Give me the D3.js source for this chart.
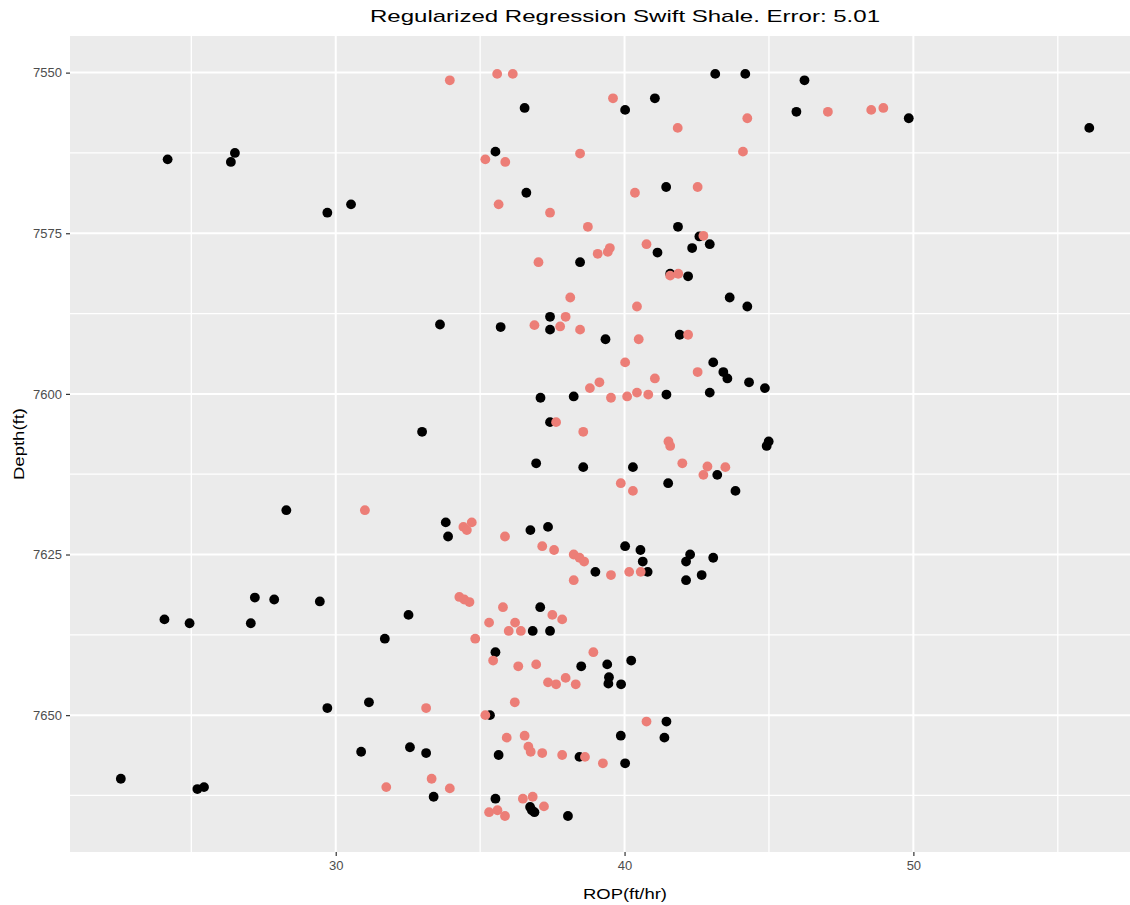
<!DOCTYPE html>
<html>
<head>
<meta charset="utf-8">
<script src="https://cdn.jsdelivr.net/npm/d3@7"></script>
<style>
  html, body { margin: 0; padding: 0; background: #ffffff; }
  svg { display: block; }
  text { font-family: "Liberation Sans", Arial, sans-serif; }
</style>
</head>
<body>
<svg id="chart" width="1130" height="905"></svg>
<script>
// ---- data ----
const titleText = "Regularized Regression Swift Shale. Error: 5.01";
const xLabel = "ROP(ft/hr)";
const yLabel = "Depth(ft)";
const xTicks = [30, 40, 50];
const xMinor = [25, 35, 45, 55];
const yTicks = [7550, 7575, 7600, 7625, 7650];
const yMinor = [7562.5, 7587.5, 7612.5, 7637.5, 7662.5];

// actual (black) points
const actualROP = [
  24.18, 26.51, 26.37, 29.71, 30.53, 43.14, 44.18, 41.05, 36.54, 40.02,
  35.53, 36.60, 41.44, 41.85, 42.59, 42.95, 42.34, 41.14, 38.46, 41.58,
  42.20, 43.64, 44.25, 46.23, 45.95, 49.84, 56.09, 32.99, 28.29, 33.61,
  35.71, 37.42, 37.42, 39.34, 41.91, 43.07, 43.42, 43.56, 44.31, 44.86,
  41.45, 42.95, 37.09, 38.24, 37.42, 44.99, 44.92, 36.94, 38.57, 40.29,
  43.21, 41.51, 43.84, 33.81, 33.89, 36.74, 37.35, 40.02, 40.55, 40.63,
  42.27, 42.13, 43.07, 38.99, 40.80, 42.67, 42.13, 37.08, 36.82, 37.42,
  35.53, 38.50, 39.40, 40.23, 39.46, 39.44, 39.88, 35.34, 41.45, 41.38,
  39.87, 38.44, 40.02, 35.64, 33.13, 33.39, 35.53, 36.73, 36.88, 36.79,
  38.04, 24.07, 24.94, 27.20, 27.87, 27.06, 29.45, 32.52, 31.70, 29.71,
  31.15, 30.88, 32.57, 22.56, 25.21, 25.44
];
const actualDepth = [
  7563.5, 7562.5, 7563.9, 7571.8, 7570.5, 7550.2, 7550.2, 7554.0, 7555.5, 7555.8,
  7562.3, 7568.7, 7567.8, 7574.0, 7575.5, 7576.7, 7577.3, 7578.0, 7579.5, 7581.3,
  7581.7, 7585.0, 7586.4, 7551.2, 7556.1, 7557.1, 7558.6, 7605.9, 7618.1, 7589.2,
  7589.6, 7588.0, 7590.0, 7591.5, 7590.8, 7595.1, 7596.6, 7597.6, 7598.2, 7599.1,
  7600.1, 7599.8, 7600.6, 7600.4, 7604.4, 7607.4, 7608.1, 7610.8, 7611.4, 7611.4,
  7612.6, 7613.9, 7615.1, 7620.0, 7622.2, 7621.2, 7620.7, 7623.7, 7624.3, 7626.1,
  7625.0, 7626.1, 7625.5, 7627.7, 7627.7, 7628.2, 7629.0, 7633.2, 7636.9, 7636.9,
  7640.2, 7642.4, 7642.1, 7641.5, 7644.1, 7645.1, 7645.2, 7650.0, 7651.0, 7653.5,
  7653.2, 7656.5, 7657.5, 7656.2, 7655.9, 7662.7, 7663.0, 7664.3, 7665.1, 7664.8,
  7665.7, 7635.1, 7635.7, 7631.7, 7632.0, 7635.7, 7632.3, 7634.4, 7638.1, 7648.9,
  7648.0, 7655.7, 7655.0, 7659.9, 7661.5, 7661.2
];

// predicted (salmon) points
const predROP = [
  33.95, 35.59, 36.13, 39.60, 44.25, 41.84, 44.10, 38.46, 35.18, 35.87,
  40.36, 42.53, 35.64, 37.42, 38.73, 42.73, 40.76, 39.07, 39.42, 39.49,
  37.02, 41.58, 41.86, 38.12, 40.43, 47.04, 48.54, 48.96, 31.01, 37.96,
  36.88, 37.77, 38.46, 40.49, 42.20, 40.02, 42.53, 41.05, 39.13, 38.80,
  39.53, 40.09, 40.43, 40.82, 37.63, 38.57, 41.52, 41.58, 42.00, 42.87,
  43.49, 42.73, 39.87, 40.29, 34.42, 34.54, 34.71, 35.86, 37.15, 37.56,
  38.24, 38.44, 38.60, 39.53, 40.16, 40.56, 38.24, 34.28, 34.45, 34.63,
  35.79, 37.50, 37.84, 35.31, 36.21, 35.99, 36.41, 34.83, 35.45, 38.92,
  36.32, 36.94, 37.35, 37.63, 37.96, 38.31, 36.20, 33.13, 35.18, 40.76,
  35.92, 36.54, 36.67, 36.75, 37.15, 37.84, 38.63, 39.25, 33.32, 33.95,
  36.48, 36.82, 37.21, 35.31, 35.60, 35.86, 31.75
];
const predDepth = [
  7551.2, 7550.2, 7550.2, 7554.0, 7557.1, 7558.6, 7562.3, 7562.6, 7563.5, 7563.9,
  7568.7, 7567.8, 7570.5, 7571.8, 7574.0, 7575.4, 7576.7, 7578.2, 7577.9, 7577.3,
  7579.5, 7581.6, 7581.3, 7585.0, 7586.4, 7556.1, 7555.8, 7555.5, 7618.1, 7588.0,
  7589.3, 7589.5, 7590.0, 7591.5, 7590.8, 7595.1, 7596.6, 7597.6, 7598.2, 7599.1,
  7600.6, 7600.4, 7599.8, 7600.1, 7604.4, 7605.9, 7607.4, 7608.1, 7610.8, 7611.3,
  7611.4, 7612.6, 7613.9, 7615.1, 7620.7, 7621.2, 7620.0, 7622.2, 7623.7, 7624.3,
  7625.0, 7625.5, 7626.1, 7628.2, 7627.7, 7627.7, 7629.0, 7631.6, 7632.0, 7632.4,
  7633.2, 7634.4, 7635.1, 7635.6, 7635.6, 7636.9, 7636.9, 7638.1, 7641.5, 7640.2,
  7642.4, 7642.1, 7644.9, 7645.2, 7644.2, 7645.2, 7648.0, 7648.9, 7650.0, 7651.0,
  7653.5, 7653.2, 7654.9, 7655.7, 7655.9, 7656.2, 7656.5, 7657.5, 7659.9, 7661.4,
  7663.0, 7662.7, 7664.2, 7665.1, 7664.8, 7665.7, 7661.2
];

// ---- layout ----
const panel = { left: 70, right: 1130, top: 36, bottom: 852 };
const svg = d3.select("#chart");

const x = d3.scaleLinear().domain([20.80, 57.50]).range([panel.left, panel.right]);
const y = d3.scaleLinear().domain([7544.3, 7671.3]).range([panel.top, panel.bottom]);

// panel background
svg.append("rect")
  .attr("x", panel.left).attr("y", panel.top)
  .attr("width", panel.right - panel.left).attr("height", panel.bottom - panel.top)
  .attr("fill", "#EBEBEB");

const grid = svg.append("g");
// minor grid
grid.selectAll("line.xmin").data(xMinor).enter().append("line")
  .attr("x1", d => x(d)).attr("x2", d => x(d))
  .attr("y1", panel.top).attr("y2", panel.bottom)
  .attr("stroke", "#ffffff").attr("stroke-width", 1.3);
grid.selectAll("line.ymin").data(yMinor).enter().append("line")
  .attr("y1", d => y(d)).attr("y2", d => y(d))
  .attr("x1", panel.left).attr("x2", panel.right)
  .attr("stroke", "#ffffff").attr("stroke-width", 1.3);
// major grid
grid.selectAll("line.xmaj").data(xTicks).enter().append("line")
  .attr("x1", d => x(d)).attr("x2", d => x(d))
  .attr("y1", panel.top).attr("y2", panel.bottom)
  .attr("stroke", "#ffffff").attr("stroke-width", 2);
grid.selectAll("line.ymaj").data(yTicks).enter().append("line")
  .attr("y1", d => y(d)).attr("y2", d => y(d))
  .attr("x1", panel.left).attr("x2", panel.right)
  .attr("stroke", "#ffffff").attr("stroke-width", 2);

// points: actual first, predictions on top
const actual = actualROP.map((v, i) => ({ rop: v, depth: actualDepth[i] }));
const pred = predROP.map((v, i) => ({ rop: v, depth: predDepth[i] }));

svg.append("g").selectAll("circle").data(actual).enter().append("circle")
  .attr("cx", d => x(d.rop)).attr("cy", d => y(d.depth))
  .attr("r", 4.9).attr("fill", "#000000");
svg.append("g").selectAll("circle").data(pred).enter().append("circle")
  .attr("cx", d => x(d.rop)).attr("cy", d => y(d.depth))
  .attr("r", 4.9).attr("fill", "#EC7E77");

// axes
const xAxis = svg.append("g")
  .attr("transform", `translate(0,${panel.bottom})`)
  .call(d3.axisBottom(x).tickValues(xTicks).tickSize(4).tickPadding(5).tickFormat(d3.format("d")));
const yAxis = svg.append("g")
  .attr("transform", `translate(${panel.left},0)`)
  .call(d3.axisLeft(y).tickValues(yTicks).tickSize(4).tickPadding(4).tickFormat(d3.format("d")));

[xAxis, yAxis].forEach(a => {
  a.select(".domain").remove();
  a.selectAll(".tick line").attr("stroke", "#333333").attr("stroke-width", 1.2);
  a.selectAll(".tick text")
    .attr("fill", "#4D4D4D")
    .style("font-size", "13px")
    .style("font-family", "'Liberation Sans', Arial, sans-serif");
});

// title
svg.append("text")
  .attr("x", 625).attr("y", 22)
  .attr("text-anchor", "middle")
  .attr("textLength", 510).attr("lengthAdjust", "spacingAndGlyphs")
  .style("font-size", "17px").attr("fill", "#000000")
  .text(titleText);

// axis titles
svg.append("text")
  .attr("x", 625).attr("y", 899)
  .attr("text-anchor", "middle")
  .attr("textLength", 84).attr("lengthAdjust", "spacingAndGlyphs")
  .style("font-size", "15px").attr("fill", "#000000")
  .text(xLabel);

svg.append("text")
  .attr("transform", "translate(24,444) rotate(-90)")
  .attr("text-anchor", "middle")
  .attr("textLength", 72).attr("lengthAdjust", "spacingAndGlyphs")
  .style("font-size", "14.5px").attr("fill", "#000000")
  .text(yLabel);
</script>
</body>
</html>
